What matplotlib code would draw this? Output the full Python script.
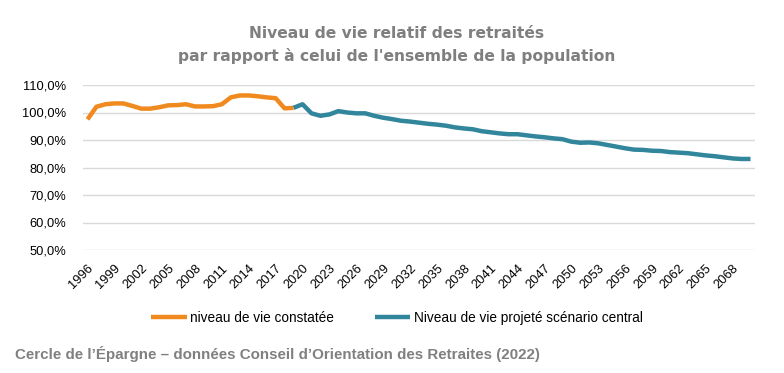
import numpy as np
import matplotlib.pyplot as plt
from matplotlib.ticker import FuncFormatter

# niveau de vie constaté (1996-2019)
annees_obs = list(range(1996, 2020))
niveau_obs = [97.5, 102.1, 103.0, 103.3, 103.3, 102.4, 101.4, 101.4, 101.9, 102.6,
              102.7, 103.0, 102.2, 102.2, 102.3, 103.0, 105.5, 106.2, 106.2, 105.9,
              105.5, 105.2, 101.5, 101.7]

# niveau de vie projeté, scénario central (2019-2070)
annees_proj = list(range(2019, 2071))
niveau_proj = [101.7, 103.0, 99.7, 98.8, 99.3, 100.5, 100.0, 99.7, 99.7, 98.8,
               98.1, 97.6, 97.0, 96.7, 96.3, 95.9, 95.6, 95.2, 94.6, 94.2,
               93.9, 93.2, 92.8, 92.4, 92.1, 92.1, 91.7, 91.3, 91.0, 90.6,
               90.3, 89.4, 89.0, 89.1, 88.8, 88.2, 87.6, 87.0, 86.5, 86.4,
               86.1, 86.0, 85.6, 85.4, 85.2, 84.8, 84.4, 84.1, 83.7, 83.3,
               83.1, 83.1]

ticks_annees = list(range(1996, 2069, 3))

orange = '#F08A1E'
bleu = '#31869C'
gris = '#7F7F7F'

plt.rcParams['font.family'] = ['Liberation Sans', 'DejaVu Sans']

fig = plt.figure(figsize=(7.84, 3.73), dpi=100)
ax = fig.add_axes([83/784, 1 - 250/373, (755 - 83)/784, (250 - 85)/373])

l1, = ax.plot(annees_obs, niveau_obs, color=orange, lw=3.2, solid_capstyle='butt')
l2, = ax.plot(annees_proj, niveau_proj, color=bleu, lw=3.2, solid_capstyle='butt')

ax.set_xlim(1995.5, 2070.5)
ax.set_ylim(50, 110)
ax.set_yticks(np.arange(50, 111, 10))
ax.yaxis.set_major_formatter(FuncFormatter(lambda v, p: f"{v:.1f}%".replace('.', ',')))
ax.set_xticks(ticks_annees)
ax.set_xticklabels([str(a) for a in ticks_annees], rotation=45, ha='right',
                   rotation_mode='anchor')
ax.tick_params(axis='both', length=0, labelsize=9.3, colors='black')
ax.tick_params(axis='y', pad=12)
ax.tick_params(axis='x', pad=9)
ax.grid(axis='y', color='#D9D9D9', lw=1)
ax.set_axisbelow(True)
for s in ax.spines.values():
    s.set_visible(False)

fig.text(397/784, 1 - 33/373, "Niveau de vie relatif des retraités",
         ha='center', va='center', fontsize=11.2, fontweight='bold', color=gris,
         family='DejaVu Sans')
fig.text(397/784, 1 - 56/373, "par rapport à celui de l'ensemble de la population",
         ha='center', va='center', fontsize=11.2, fontweight='bold', color=gris,
         family='DejaVu Sans')

fig.legend([l1, l2], ["niveau de vie constatée", "Niveau de vie projeté scénario central"],
           loc='center', bbox_to_anchor=(397/784, 1 - 318/373), ncol=2, frameon=False,
           fontsize=9.8, handlelength=2.6, handletextpad=0.25, columnspacing=3)

fig.text(15/784, 1 - 354/373,
         "Cercle de l’Épargne – données Conseil d’Orientation des Retraites (2022)",
         ha='left', va='center', fontsize=10.9, fontweight='bold', color='#808080')

fig.savefig('out.png', dpi=100)
